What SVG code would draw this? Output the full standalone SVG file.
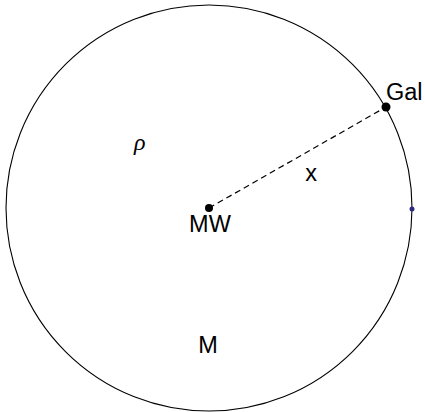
<svg xmlns="http://www.w3.org/2000/svg" width="425" height="412" viewBox="0 0 425 412">
<style>
.lbl{font-family:"Liberation Sans",Arial,sans-serif;font-size:23.5px;fill:#000}
.greek{font-family:"Liberation Serif","Times New Roman",serif;font-style:italic;font-size:24px;fill:#000}
</style>
<rect width="425" height="412" fill="#fff"/>
<g id="boundary">
<circle cx="209" cy="208" r="203" fill="none" stroke="#000" stroke-width="1.1"/>
</g>
<g id="connectors">
<line x1="209" y1="208" x2="386" y2="107" stroke="#000" stroke-width="1.2" stroke-dasharray="6,4"/>
</g>
<g id="MW">
<circle cx="209" cy="208" r="4" fill="#000"/>
<text class="lbl" x="210" y="232" text-anchor="middle">MW</text>
</g>
<g id="Gal">
<circle cx="386" cy="107" r="4.5" fill="#000"/>
<text class="lbl" x="386" y="100">Gal</text>
</g>
<g id="edge-point">
<circle cx="412" cy="209" r="2.5" fill="#2b2b80"/>
</g>
<g id="rho">
<text class="greek" x="134" y="150">ρ</text>
</g>
<g id="x-label">
<text class="lbl" x="311" y="181" text-anchor="middle">x</text>
</g>
<g id="M-label">
<text class="lbl" x="208" y="353" text-anchor="middle">M</text>
</g>
</svg>
